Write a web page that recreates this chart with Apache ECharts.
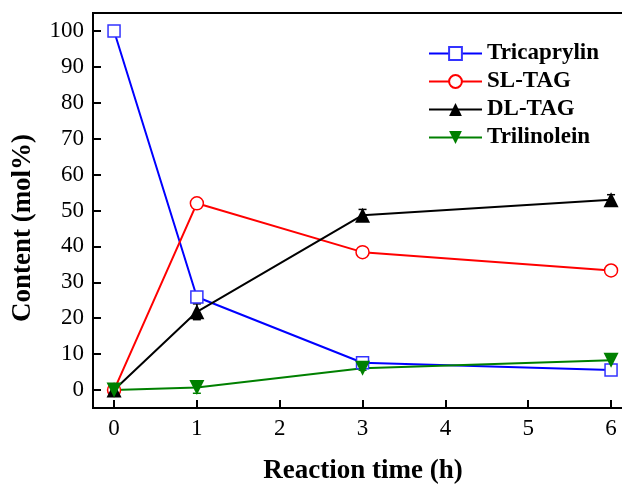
<!DOCTYPE html>
<html>
<head>
<meta charset="utf-8">
<script src="https://cdn.jsdelivr.net/npm/echarts@6/dist/echarts.min.js"></script>
<style>
  html, body { margin: 0; padding: 0; background: #fff; overflow: hidden; }
  #chart { width: 622px; height: 484px; }
</style>
</head>
<body>
<div id="chart"></div>
<script>
var times = [0, 1, 3, 6];
var tricaprylin = [100, 25.9, 7.6, 5.6];
var slTag = [0, 52.0, 38.4, 33.3];
var dlTag = [0, 21.8, 48.7, 53.0];
var trilinolein = [0, 0.7, 6.1, 8.3];
// error bars (+/-)
var errTricaprylin = [0, 0.8, 0.6, 0.6];
var errSlTag = [0, 0.8, 0.9, 0.9];
var errDlTag = [0.4, 2.2, 1.6, 1.4];
var errTrilinolein = [0.3, 1.6, 0.6, 1.4];
var xTicks = [0, 1, 2, 3, 4, 5, 6];
var yTicks = [0, 10, 20, 30, 40, 50, 60, 70, 80, 90, 100];

var font = 'Liberation Serif';

function pairs(ys) {
    return times.map(function (t, i) { return [t, ys[i]]; });
}

function errSeries(ys, errs, color) {
    return {
        type: 'custom',
        silent: true,
        z: 1,
        data: times.map(function (t, i) { return [t, ys[i] - errs[i], ys[i] + errs[i]]; }),
        renderItem: function (params, api) {
            var lo = api.coord([api.value(0), api.value(1)]);
            var hi = api.coord([api.value(0), api.value(2)]);
            var w = 4;
            var st = { stroke: color, lineWidth: 1.5 };
            return {
                type: 'group',
                children: [
                    { type: 'line', shape: { x1: lo[0], y1: lo[1], x2: hi[0], y2: hi[1] }, style: st },
                    { type: 'line', shape: { x1: lo[0] - w, y1: lo[1], x2: lo[0] + w, y2: lo[1] }, style: st },
                    { type: 'line', shape: { x1: hi[0] - w, y1: hi[1], x2: hi[0] + w, y2: hi[1] }, style: st }
                ]
            };
        }
    };
}

var chart = echarts.init(document.getElementById('chart'));

var option = {
    backgroundColor: '#fff',
    animation: false,
    grid: {
        left: 93, width: 540, top: 13, height: 395,
        outerBoundsMode: 'none',
        containLabel: false,
        show: true, borderColor: '#000', borderWidth: 2
    },
    legend: {
        orient: 'vertical',
        left: 423,
        top: 37,
        itemWidth: 53,
        itemHeight: 16,
        itemGap: 5,
        textStyle: { fontFamily: font, fontWeight: 'bold', fontSize: 23, color: '#000' },
        data: ['Tricaprylin', 'SL-TAG', 'DL-TAG', 'Trilinolein']
    },
    xAxis: {
        type: 'value',
        min: -0.254,
        max: 6.265,
        name: 'Reaction time (h)',
        nameLocation: 'middle',
        nameGap: 50,
        nameTextStyle: { fontFamily: font, fontWeight: 'bold', fontSize: 27, color: '#000' },
        splitLine: { show: false },
        axisLine: { onZero: false, lineStyle: { color: '#000', width: 2 } },
        axisTick: { inside: true, length: 8, lineStyle: { color: '#000', width: 2 }, customValues: xTicks },
        axisLabel: { margin: 9, fontFamily: font, fontSize: 23, color: '#000', customValues: xTicks }
    },
    yAxis: {
        type: 'value',
        min: -5,
        max: 105,
        splitLine: { show: false },
        axisLine: { onZero: false, lineStyle: { color: '#000', width: 2 } },
        axisTick: { inside: true, length: 8, lineStyle: { color: '#000', width: 2 }, customValues: yTicks },
        axisLabel: { margin: 9, fontFamily: font, fontSize: 23, color: '#000', customValues: yTicks }
    },
    graphic: [{
        type: 'text',
        x: 23,
        y: 228,
        rotation: Math.PI / 2,
        style: {
            text: 'Content (mol%)',
            font: 'bold 27px "Liberation Serif"',
            fill: '#000',
            textAlign: 'center',
            textVerticalAlign: 'middle'
        }
    }],
    series: [
        errSeries(tricaprylin, errTricaprylin, '#3333ff'),
        errSeries(slTag, errSlTag, '#ff0000'),
        errSeries(dlTag, errDlTag, '#000'),
        errSeries(trilinolein, errTrilinolein, '#008000'),
        {
            name: 'Tricaprylin', type: 'line', data: pairs(tricaprylin),
            symbol: 'rect', symbolSize: 12,
            lineStyle: { color: '#0000ff', width: 2 },
            itemStyle: { color: '#fff', borderColor: '#3333ff', borderWidth: 1.5 }
        },
        {
            name: 'SL-TAG', type: 'line', data: pairs(slTag),
            symbol: 'circle', symbolSize: 13,
            lineStyle: { color: '#ff0000', width: 2 },
            itemStyle: { color: '#fff', borderColor: '#ff0000', borderWidth: 1.5 }
        },
        {
            name: 'DL-TAG', type: 'line', data: pairs(dlTag),
            symbol: 'triangle', symbolSize: 15,
            lineStyle: { color: '#000', width: 2 },
            itemStyle: { color: '#000' }
        },
        {
            name: 'Trilinolein', type: 'line', data: pairs(trilinolein),
            symbol: 'triangle', symbolSize: 15, symbolRotate: 180,
            lineStyle: { color: '#008000', width: 2 },
            itemStyle: { color: '#008000' }
        }
    ]
};

chart.setOption(option);

window.addEventListener('resize', function () {
    chart.resize();
});
</script>
</body>
</html>
